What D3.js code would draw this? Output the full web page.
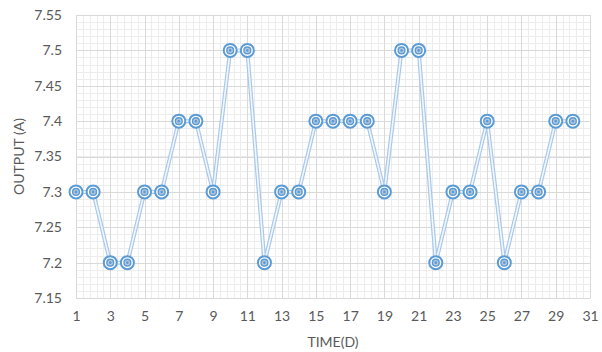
<!DOCTYPE html>
<html><head><meta charset="utf-8">
<script src="https://cdn.jsdelivr.net/npm/d3@7"></script>
<style>body{margin:0;background:#fff}</style>
</head><body>
<svg id="c" width="602" height="352"></svg>
<script>
const days = d3.range(1, 31);
const output = [7.3,7.3,7.2,7.2,7.3,7.3,7.4,7.4,7.3,7.5,7.5,7.2,7.3,7.3,7.4,7.4,7.4,7.4,7.3,7.5,7.5,7.2,7.3,7.3,7.4,7.2,7.3,7.3,7.4,7.4];
const xTicks = d3.range(1, 32, 2);
const yTicks = [7.15,7.2,7.25,7.3,7.35,7.4,7.45,7.5,7.55];
const xLabel = "TIME(D)", yLabel = "OUTPUT (A)";

const svg = d3.select("#c");
const L = 76, R = 590, T = 15, B = 298;
const x = d3.scaleLinear().domain([1, 31]).range([L, R]);
const y = d3.scaleLinear().domain([7.15, 7.55]).range([B, T]);
const font = "Lato, 'Open Sans', sans-serif";

const g = svg.append("g");
// minor grid
const xMinor = d3.range(1, 31.001, 0.4);
const yMinor = d3.range(0, 41).map(i => 7.15 + i * 0.01);
g.selectAll(".mx").data(xMinor).join("line")
  .attr("x1", d => Math.round(x(d)) + 0.5).attr("x2", d => Math.round(x(d)) + 0.5)
  .attr("y1", T).attr("y2", B).attr("stroke", "#ececec").attr("stroke-width", 1);
g.selectAll(".my").data(yMinor).join("line")
  .attr("y1", d => Math.round(y(d)) + 0.5).attr("y2", d => Math.round(y(d)) + 0.5)
  .attr("x1", L).attr("x2", R).attr("stroke", "#ececec").attr("stroke-width", 1);
// major grid
g.selectAll(".Mx").data(xTicks).join("line")
  .attr("x1", d => Math.round(x(d)) + 0.5).attr("x2", d => Math.round(x(d)) + 0.5)
  .attr("y1", T).attr("y2", B).attr("stroke", "#d9d9d9").attr("stroke-width", 1);
g.selectAll(".My").data(yTicks).join("line")
  .attr("y1", d => Math.round(y(d)) + 0.5).attr("y2", d => Math.round(y(d)) + 0.5)
  .attr("x1", L).attr("x2", R).attr("stroke", "#d9d9d9").attr("stroke-width", 1);

// axes
const xAxis = svg.append("g").attr("transform", `translate(0,${B})`)
  .call(d3.axisBottom(x).tickValues(xTicks).tickSize(0).tickPadding(13).tickFormat(d3.format("d")));
const yAxis = svg.append("g").attr("transform", `translate(${L},0)`)
  .call(d3.axisLeft(y).tickValues(yTicks).tickSize(0).tickPadding(14).tickFormat(d => String(+d.toFixed(2))));
[xAxis, yAxis].forEach(a => {
  a.select(".domain").attr("stroke", "#d9d9d9");
  a.selectAll("text").attr("fill", "#595959").style("font-family", font).style("font-size", "14px");
});

// line (double stroke)
const line = d3.line().x((d, i) => x(days[i])).y(d => y(d));
svg.append("path").datum(output).attr("d", line).attr("fill", "none")
  .attr("stroke", "#a9c9ea").attr("stroke-width", 4).attr("stroke-linejoin", "round");
svg.append("path").datum(output).attr("d", line).attr("fill", "none")
  .attr("stroke", "#ffffff").attr("stroke-width", 1.6).attr("stroke-opacity", 0.85).attr("stroke-linejoin", "round");

// markers
const m = svg.append("g").selectAll("g").data(output).join("g")
  .attr("transform", (d, i) => `translate(${x(days[i])},${y(d)})`);
m.append("circle").attr("r", 6.5).attr("fill", "#fff").attr("stroke", "#5b9bd5").attr("stroke-width", 2);
m.append("circle").attr("r", 3.4).attr("fill", "#b4c7dc").attr("stroke", "#5b9bd5").attr("stroke-width", 1.4);
m.append("circle").attr("r", 1.3).attr("fill", "#5b9bd5");

// labels
svg.append("text").attr("x", (L + R) / 2).attr("y", 347).attr("text-anchor", "middle")
  .attr("fill", "#595959").style("font-family", font).style("font-size", "14px").text(xLabel);
svg.append("text").attr("transform", `translate(24,${(T + B) / 2}) rotate(-90)`).attr("text-anchor", "middle")
  .attr("fill", "#595959").style("font-family", font).style("font-size", "14px").text(yLabel);
</script>
</body></html>
